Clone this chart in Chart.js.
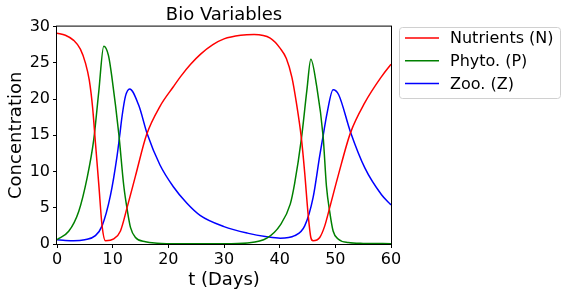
<!DOCTYPE html>
<html>
<head>
<meta charset="utf-8">
<script src="https://cdn.jsdelivr.net/npm/chart.js@4"></script>
<style>
  html, body { margin: 0; padding: 0; background: #fff; }
</style>
</head>
<body>
<canvas id="chart" width="568" height="295"></canvas>
<script>
// values (t in days, concentration)
const nutrientT = [0, 1.5, 3, 4.2, 5.1, 5.8, 6.4, 6.9, 7.5, 8.1, 8.7, 10.2, 11.4, 12.6, 14.1, 16.1, 18.5, 20.9, 22.3, 24, 25.8, 28, 30, 33, 35.4, 38.3, 40.1, 41.2, 42.2, 43, 43.9, 44.5, 45.1, 45.6, 46, 47.2, 48.1, 49, 50.5, 52.7, 55.3, 58.3, 60];
const nutrientV = [29.1, 28.8, 28.1, 26.9, 25.0, 22.6, 18.8, 14.0, 8.3, 2.5, 0.45, 0.7, 1.8, 5.05, 9.4, 15.1, 19, 21.7, 23.2, 24.8, 26.2, 27.5, 28.3, 28.8, 28.9, 28.4, 27.0, 25.6, 23.0, 19.5, 14.6, 9.8, 4.2, 0.9, 0.45, 0.9, 2.5, 5.05, 9.4, 15.3, 19.5, 23.1, 24.8];

const phytoT = [0, 2.1, 3.9, 5.4, 6.6, 7.5, 8.4, 9.25, 9.9, 11.1, 12, 12.6, 13.2, 14.1, 15.9, 18, 22, 30, 34.2, 37.7, 40.1, 41.9, 42.7, 43.9, 44.9, 45.6, 46.6, 47.8, 48.4, 49, 49.6, 50.5, 52.3, 55, 60];
const phytoV = [0.6, 1.75, 4.5, 9.1, 14.4, 21, 27.3, 26, 22.8, 15.2, 8, 4.8, 2.3, 0.9, 0.3, 0.12, 0.05, 0.05, 0.15, 0.8, 2.6, 5.5, 8.4, 14.5, 21.3, 25.5, 22, 14.9, 8, 4.4, 1.8, 0.7, 0.2, 0.08, 0.05];

const zooT = [0, 1.5, 3, 5, 6.9, 8.1, 9.6, 10.8, 11.25, 11.7, 12.3, 13.05, 14.7, 16.2, 18.5, 20.9, 23.3, 25.7, 30, 34.2, 37.7, 40.1, 42.7, 44.5, 46, 47.2, 47.8, 48.5, 49.6, 50.6, 52.7, 55.3, 58.3, 60];
const zooV = [0.6, 0.5, 0.45, 0.6, 1.15, 2.5, 6.7, 12.2, 14.9, 17.7, 20.4, 21.4, 19.1, 15.2, 10.9, 7.9, 5.65, 3.95, 2.4, 1.5, 1.0, 0.8, 1.15, 2.5, 6.4, 12.2, 14.9, 18, 21.3, 20.6, 15.5, 10.5, 6.8, 5.4];

const seriesNames = ['Nutrients (N)', 'Phyto. (P)', 'Zoo. (Z)'];
const seriesColors = ['#ff0000', '#008000', '#0000ff'];
const xTicks = [0, 10, 20, 30, 40, 50, 60];
const yTicks = [0, 5, 10, 15, 20, 25, 30];

const toPoints = (ts, vs) => ts.map((t, i) => ({ x: t, y: vs[i] }));

Chart.defaults.font.family = 'DejaVu Sans';
Chart.defaults.color = '#000';

// matplotlib style frame + outside legend
const frameAndLegend = {
  id: 'frameAndLegend',
  afterDatasetsDraw(chart) {
    const { ctx, chartArea: a } = chart;
    ctx.save();
    ctx.strokeStyle = '#000';
    ctx.lineWidth = 1;
    ctx.strokeRect(a.left - 0.5, a.top - 0.5, a.right - a.left + 1, a.bottom - a.top + 1);

    const bx = 399.5, by = 27.5, bw = 161, bh = 71;
    ctx.beginPath();
    ctx.roundRect(bx, by, bw, bh, 3);
    ctx.fillStyle = 'rgba(255,255,255,0.8)';
    ctx.fill();
    ctx.strokeStyle = '#d0d0d0';
    ctx.stroke();

    ctx.font = '16px "DejaVu Sans"';
    ctx.textBaseline = 'middle';
    ctx.textAlign = 'left';
    chart.data.datasets.forEach((ds, i) => {
      const y = 38 + i * 22.8;
      ctx.strokeStyle = ds.borderColor;
      ctx.lineWidth = 1.5;
      ctx.beginPath();
      ctx.moveTo(405, y);
      ctx.lineTo(439, y);
      ctx.stroke();
      ctx.fillStyle = '#000';
      ctx.fillText(ds.label, 450, y + 1);
    });
    ctx.restore();
  }
};

new Chart(document.getElementById('chart'), {
  type: 'line',
  data: {
    datasets: [
      { label: seriesNames[0], data: toPoints(nutrientT, nutrientV), borderColor: seriesColors[0] },
      { label: seriesNames[1], data: toPoints(phytoT, phytoV), borderColor: seriesColors[1] },
      { label: seriesNames[2], data: toPoints(zooT, zooV), borderColor: seriesColors[2] },
    ].map(ds => ({ ...ds, borderWidth: 1.5, pointRadius: 0, fill: false, cubicInterpolationMode: 'monotone' })),
  },
  options: {
    responsive: false,
    animation: false,
    layout: { padding: { left: 0, right: 177, top: 0, bottom: 0 } },
    plugins: {
      legend: { display: false },
      tooltip: { enabled: false },
      title: {
        display: true,
        text: 'Bio Variables',
        fullSize: false,
        color: '#000',
        font: { size: 18, weight: 'normal' },
        padding: { top: 5, bottom: 0 },
      },
    },
    scales: {
      x: {
        type: 'linear',
        min: 0,
        max: 60,
        afterBuildTicks: scale => { scale.ticks = xTicks.map(v => ({ value: v })); },
        afterFit: scale => { scale.height = 51; },
        grid: { drawOnChartArea: false, drawTicks: true, tickLength: 4, color: '#000' },
        border: { display: false },
        ticks: { font: { size: 16 }, padding: 2, color: '#000', maxRotation: 0 },
        title: { display: true, text: 't (Days)', font: { size: 18 }, padding: { top: 0, bottom: 4 } },
      },
      y: {
        min: 0,
        max: 30,
        afterBuildTicks: scale => { scale.ticks = yTicks.map(v => ({ value: v })); },
        afterFit: scale => { scale.width = 57; },
        grid: { drawOnChartArea: false, drawTicks: true, tickLength: 4, color: '#000' },
        border: { display: false },
        ticks: { font: { size: 16 }, padding: 3, color: '#000' },
        title: { display: true, text: 'Concentration', font: { size: 18 }, padding: { top: 6, bottom: 0 } },
      },
    },
  },
  plugins: [frameAndLegend],
});
</script>
</body>
</html>
